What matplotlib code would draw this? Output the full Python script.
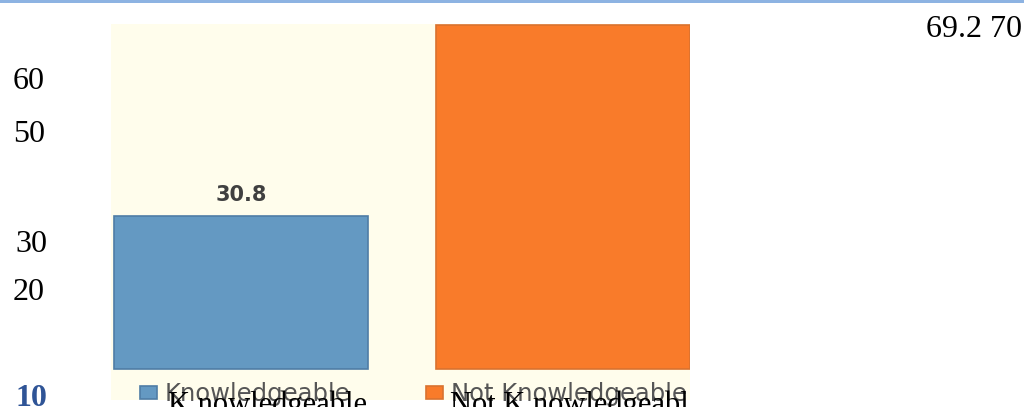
import matplotlib.pyplot as plt
from matplotlib.patches import Rectangle
from matplotlib.transforms import Bbox, TransformedBbox

# data
categories = ["Knowledgeable", "Not Knowledgeable"]
values = [30.8, 69.2]
bar_colors = ["#6499C2", "#F97B2A"]
edge_colors = ["#4F7DA6", "#D9722F"]

# stray y-axis labels left over from the page text
side_labels = ["60", "50", "30", "20", "10"]
# broken caption text lying over the legend
overlay_labels = ["K nowledgeable", "Not K nowledgeabl"]

W, H = 1024, 407


def fx(px):
    return px / W


def fy(py):
    return 1 - py / H


def main():
    fig = plt.figure(figsize=(W / 100, H / 100), dpi=100)
    fig.patch.set_facecolor("#ffffff")

    # thin blue rule along the top edge
    fig.patches.append(
        Rectangle((0, fy(3)), 1, 3 / H, transform=fig.transFigure,
                  facecolor="#8DB3E2", edgecolor="none")
    )

    ax = fig.add_axes([fx(111), fy(400), fx(690) - fx(111), fy(24) - fy(400)])
    ax.set_facecolor("#FFFDEC")

    x = range(len(categories))
    bars = ax.bar(x, values, width=0.789, color=bar_colors,
                  edgecolor=edge_colors, linewidth=1.2, label=categories)

    ax.set_xlim(-0.404, 1.394)
    ax.set_ylim(-6.24, 69.45)
    ax.set_xticks([])
    ax.set_yticks([])
    for s in ax.spines.values():
        s.set_visible(False)

    # only the first bar keeps its value label inside the picture
    ax.annotate(f"{values[0]}", xy=(0, values[0]), xytext=(0, 11),
                textcoords="offset points", ha="center", va="baseline",
                fontsize=15, fontweight="bold", color="#404040",
                family="DejaVu Sans")

    clip = TransformedBbox(Bbox([[fx(111), 0], [fx(690), 1]]), fig.transFigure)

    leg = ax.legend(bars, categories, ncol=2, loc="lower left",
                    bbox_to_anchor=(fx(140), fy(406)),
                    bbox_transform=fig.transFigure, frameon=False,
                    borderpad=0, borderaxespad=0, fontsize=17.5,
                    handlelength=0.7, handleheight=0.41, handletextpad=0.33,
                    columnspacing=3.1)
    for t in leg.get_texts():
        t.set_color("#555555")
        t.set_family("DejaVu Sans")
        t.set_clip_box(clip)
        t.set_clip_on(True)

    serif = "Liberation Serif"

    # stray numbers down the left side
    left_pos = [(13, 89), (13, 142), (15, 252), (13, 300)]
    for lab, (px, py) in zip(side_labels[:-1], left_pos):
        fig.text(fx(px), fy(py), lab, family=serif, fontsize=23,
                 color="#000000", va="baseline", ha="left")
    fig.text(fx(16), fy(406), side_labels[-1], family=serif, fontsize=23,
             fontweight="bold", color="#2F5496", va="baseline", ha="left")

    # value of the second bar and the top tick, pushed to the top right
    fig.text(fx(926), fy(37), f"{values[1]} 70", family=serif, fontsize=23,
             color="#000000", va="baseline", ha="left")

    # overlapping caption text under the legend
    for lab, px in zip(overlay_labels, [168, 450]):
        fig.text(fx(px), fy(413), lab, family=serif, fontsize=22,
                 color="#000000", va="baseline", ha="left")

    fig.savefig("out.png", dpi=100, facecolor=fig.get_facecolor())


if __name__ == "__main__":
    main()
